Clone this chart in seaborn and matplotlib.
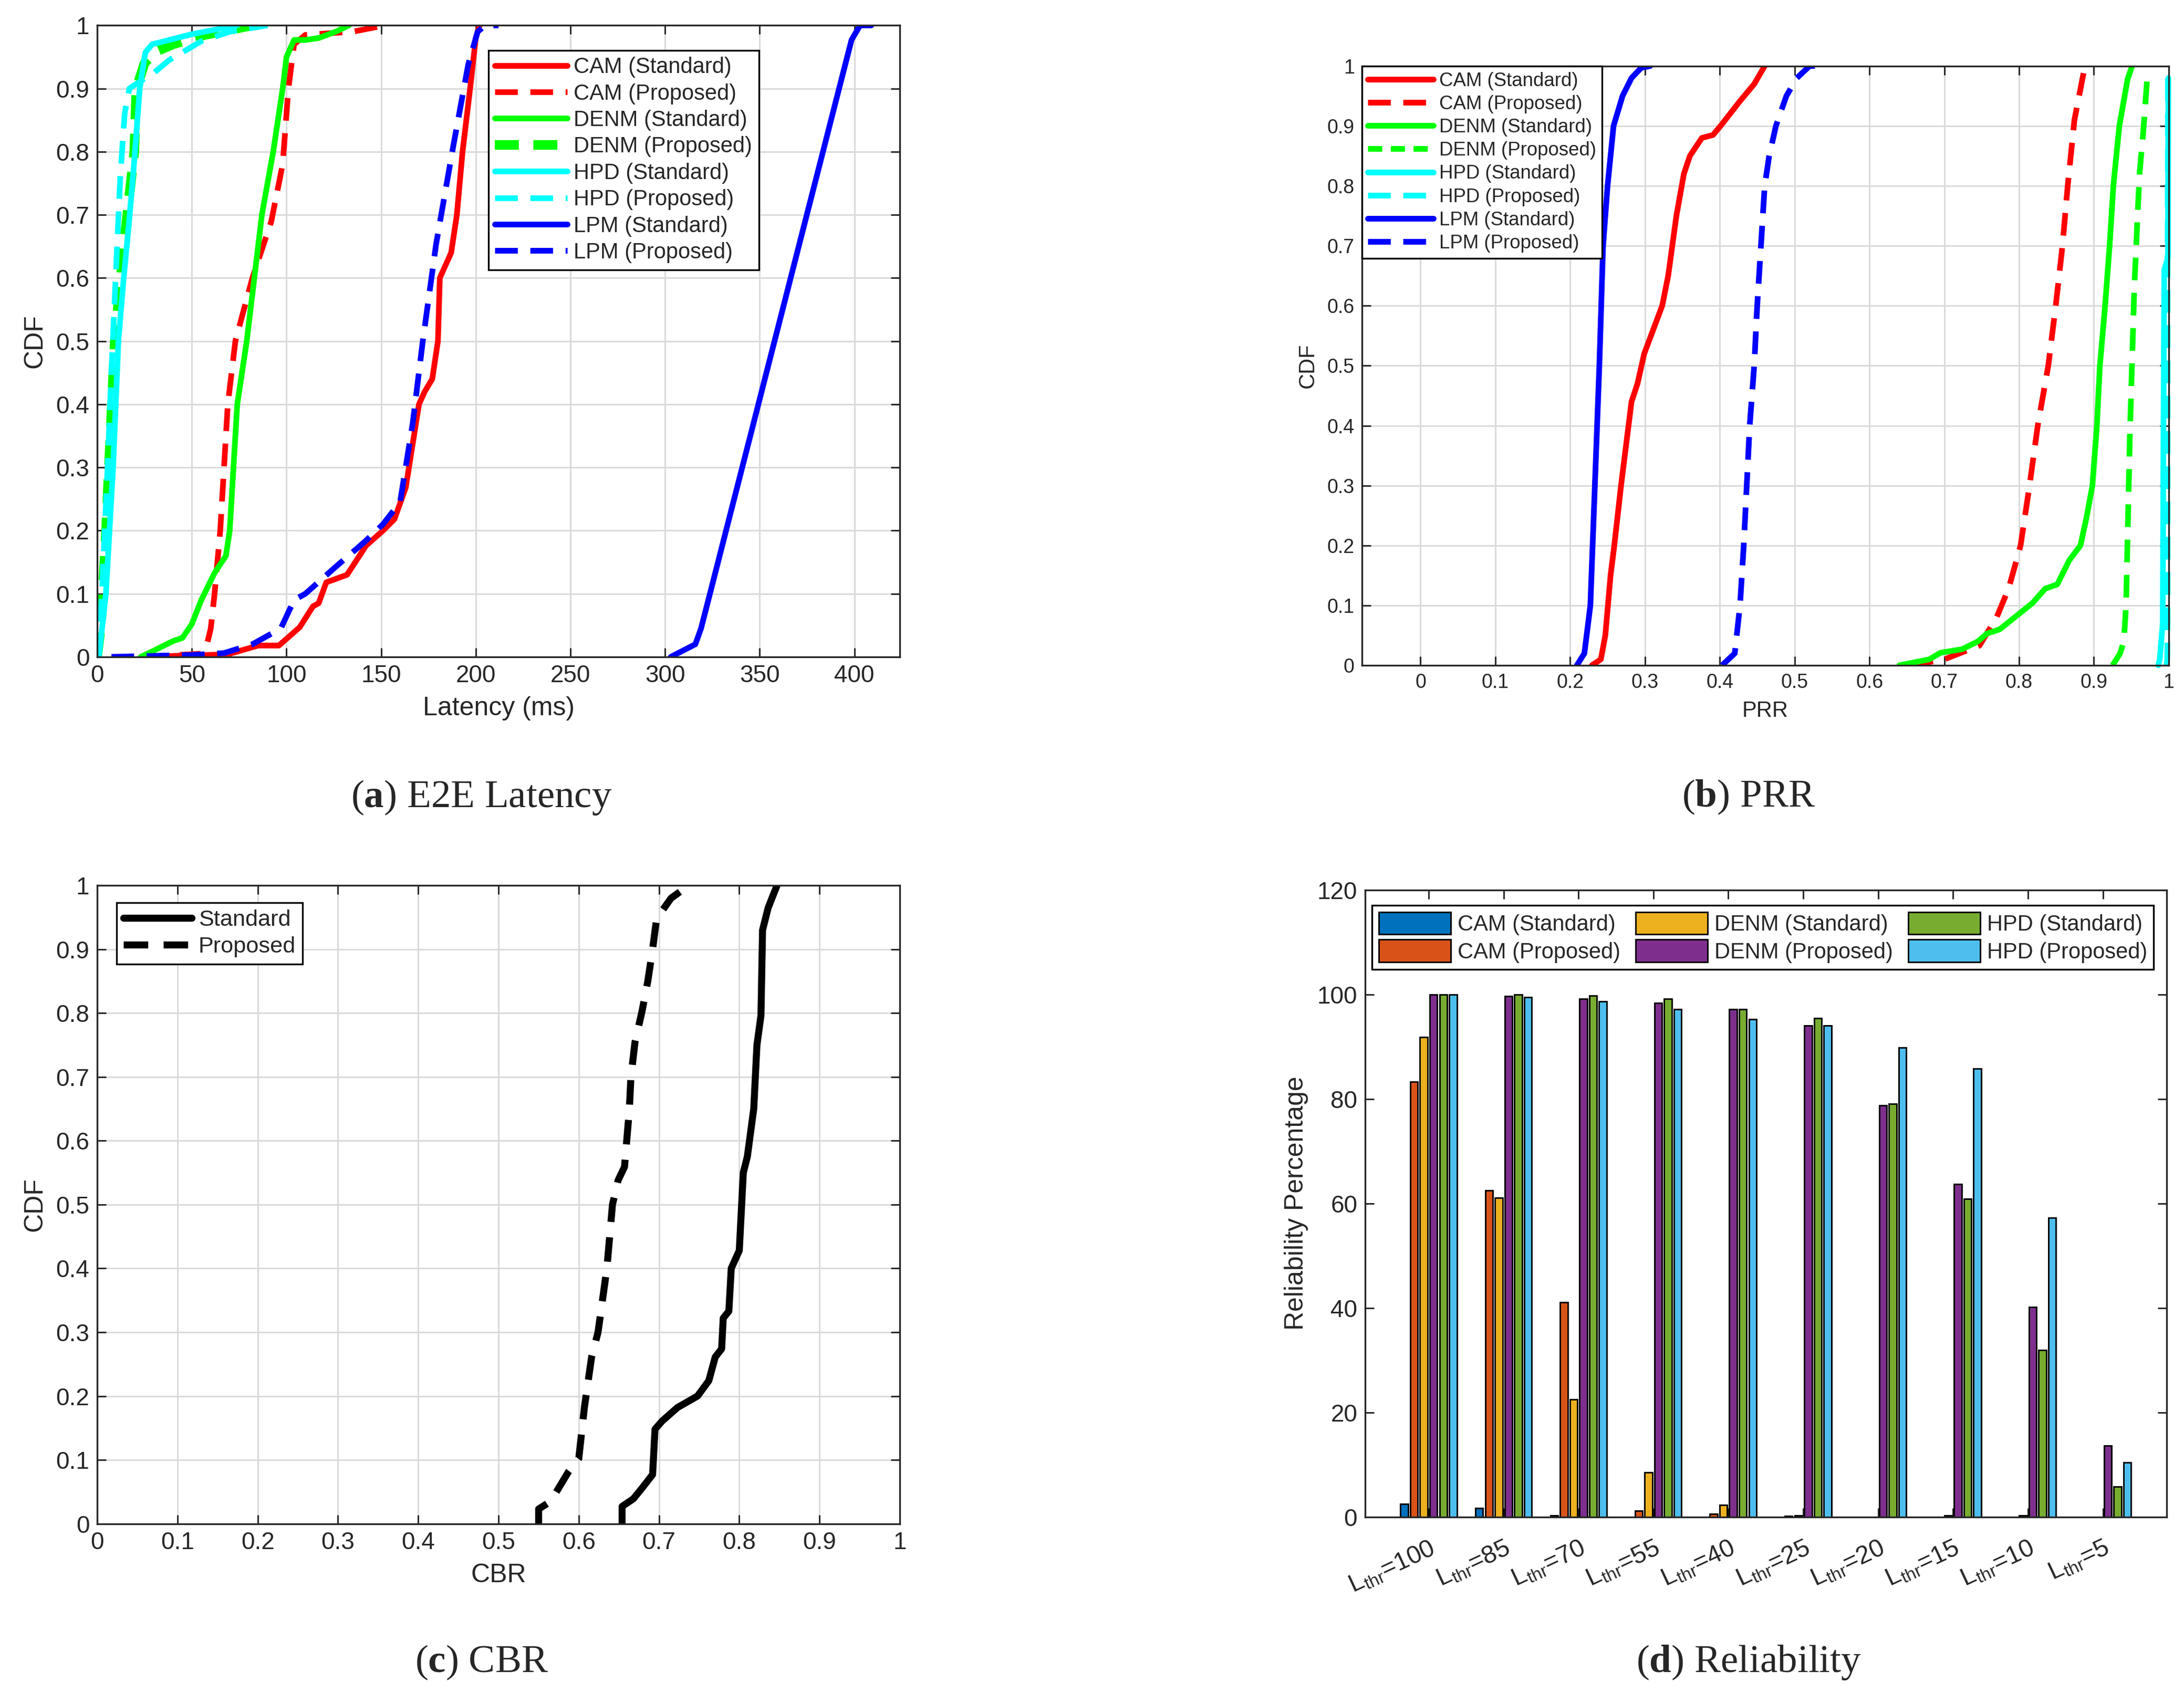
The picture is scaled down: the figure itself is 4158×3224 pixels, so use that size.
import pandas as pd
import matplotlib
matplotlib.use("Agg")
import matplotlib.pyplot as plt
from matplotlib.lines import Line2D
from matplotlib.patches import Patch
from matplotlib.ticker import FuncFormatter, MultipleLocator
import seaborn as sns

# ---------------- (a) E2E latency CDF (ms) ----------------
cam_std_lat = [23, 69, 85, 96, 107, 114, 117, 121, 132, 142, 151, 157, 163, 170, 173, 177, 180, 181, 184, 187, 190, 193, 197, 200, 202]
cam_std_lat_cdf = [0, 0.004, 0.018, 0.018, 0.047, 0.08, 0.085, 0.118, 0.13, 0.176, 0.2, 0.218, 0.268, 0.4, 0.42, 0.44, 0.5, 0.6, 0.62, 0.64, 0.7, 0.8, 0.9, 0.98, 1.0]
cam_prop_lat = [25, 55, 58, 60, 62, 65, 67, 69, 73, 82, 92, 98, 101, 104, 110, 135, 152]
cam_prop_lat_cdf = [0, 0.005, 0.02, 0.045, 0.1, 0.2, 0.3, 0.4, 0.5, 0.6, 0.69, 0.78, 0.9, 0.97, 0.985, 0.99, 1.0]
denm_std_lat = [23, 30, 40, 45, 50, 55, 62, 68, 70, 72, 74, 79, 83, 87, 93, 98, 100, 104, 110, 117, 126, 133]
denm_std_lat_cdf = [0, 0.01, 0.025, 0.03, 0.052, 0.09, 0.133, 0.16, 0.2, 0.3, 0.4, 0.5, 0.6, 0.7, 0.8, 0.9, 0.95, 0.977, 0.977, 0.98, 0.99, 1.0]
denm_prop_lat = [0, 2, 4.7, 6.2, 9.3, 14, 19.6, 20.7, 25, 30, 40, 57, 82]
denm_prop_lat_cdf = [0, 0.05, 0.2, 0.3, 0.5, 0.65, 0.8, 0.9, 0.94, 0.957, 0.97, 0.985, 1.0]
hpd_std_lat = [0.9, 4.6, 6.5, 8.4, 11.2, 14, 16.9, 19.7, 22.5, 25.4, 29, 50, 74]
hpd_std_lat_cdf = [0, 0.1, 0.2, 0.3, 0.5, 0.6, 0.69, 0.79, 0.9, 0.957, 0.97, 0.986, 1.0]
hpd_prop_lat = [0.5, 2.5, 4, 5.5, 7.5, 9.3, 10.8, 12.2, 14.5, 17, 22, 30, 38, 55, 70, 90]
hpd_prop_lat_cdf = [0, 0.1, 0.2, 0.3, 0.45, 0.57, 0.67, 0.76, 0.86, 0.9, 0.91, 0.925, 0.945, 0.975, 0.99, 1.0]
lpm_std_lat = [303, 316, 319, 398.5, 403, 409]
lpm_std_lat_cdf = [0, 0.02, 0.045, 0.977, 1.0, 1.0]
lpm_prop_lat = [7.5, 50, 67, 82, 97, 104, 110, 125, 141.6, 151, 160, 166.6, 172, 179, 188, 196, 201, 205, 212]
lpm_prop_lat_cdf = [0, 0.003, 0.006, 0.02, 0.045, 0.09, 0.1, 0.14, 0.183, 0.21, 0.245, 0.368, 0.5, 0.653, 0.807, 0.938, 0.99, 1.0, 1.0]

# ---------------- (b) PRR CDF ----------------
cam_std_prr = [0.229, 0.241, 0.247, 0.254, 0.259, 0.268, 0.278, 0.282, 0.29, 0.299, 0.311, 0.323, 0.331, 0.342, 0.352, 0.36, 0.376, 0.391, 0.401, 0.426, 0.446, 0.46]
cam_std_prr_cdf = [0, 0.01, 0.05, 0.15, 0.2, 0.3, 0.4, 0.44, 0.47, 0.52, 0.56, 0.6, 0.65, 0.75, 0.82, 0.85, 0.88, 0.885, 0.9, 0.94, 0.97, 1.0]
cam_prop_prr = [0.655, 0.7, 0.747, 0.77, 0.786, 0.802, 0.814, 0.825, 0.839, 0.849, 0.858, 0.865, 0.874, 0.888]
cam_prop_prr_cdf = [0, 0.01, 0.033, 0.08, 0.128, 0.2, 0.3, 0.4, 0.5, 0.6, 0.7, 0.8, 0.91, 1.0]
denm_std_prr = [0.64, 0.68, 0.695, 0.724, 0.745, 0.757, 0.774, 0.794, 0.818, 0.835, 0.851, 0.867, 0.882, 0.89, 0.898, 0.904, 0.908, 0.915, 0.921, 0.926, 0.934, 0.945, 0.951]
denm_std_prr_cdf = [0, 0.01, 0.021, 0.027, 0.04, 0.053, 0.06, 0.08, 0.104, 0.128, 0.135, 0.175, 0.2, 0.246, 0.3, 0.4, 0.5, 0.6, 0.7, 0.8, 0.9, 0.978, 1.0]
denm_prop_prr = [0.925, 0.935, 0.94, 0.943, 0.948, 0.954, 0.961, 0.966, 0.971]
denm_prop_prr_cdf = [0, 0.02, 0.04, 0.1, 0.38, 0.63, 0.82, 0.89, 0.975]
hpd_std_prr = [0.986, 0.988, 0.992, 0.993, 0.994, 0.999, 0.9995]
hpd_std_prr_cdf = [0, 0.01, 0.07, 0.4, 0.66, 0.68, 0.98]
hpd_prop_prr = [0.997, 0.998, 0.9985, 0.9985, 0.999]
hpd_prop_prr_cdf = [0, 0.01, 0.1, 0.65, 1.0]
lpm_std_prr = [0.209, 0.219, 0.227, 0.233, 0.239, 0.244, 0.25, 0.254, 0.258, 0.27, 0.282, 0.295, 0.307]
lpm_std_prr_cdf = [0, 0.02, 0.1, 0.3, 0.5, 0.7, 0.8, 0.85, 0.9, 0.95, 0.98, 0.997, 1.0]
lpm_prop_prr = [0.403, 0.42, 0.427, 0.432, 0.44, 0.446, 0.45, 0.455, 0.46, 0.466, 0.475, 0.489, 0.503, 0.52, 0.536]
lpm_prop_prr_cdf = [0, 0.02, 0.1, 0.2, 0.4, 0.5, 0.6, 0.7, 0.8, 0.85, 0.9, 0.95, 0.98, 1.0, 1.0]

# ---------------- (c) CBR CDF ----------------
cbr_std = [0.654, 0.654, 0.668, 0.679, 0.692, 0.695, 0.704, 0.723, 0.748, 0.762, 0.77, 0.778, 0.78, 0.787, 0.79, 0.8, 0.805, 0.81, 0.818, 0.822, 0.827, 0.829, 0.836, 0.847]
cbr_std_cdf = [0, 0.027, 0.039, 0.056, 0.077, 0.148, 0.161, 0.182, 0.2, 0.224, 0.261, 0.274, 0.322, 0.333, 0.4, 0.428, 0.55, 0.575, 0.65, 0.75, 0.796, 0.93, 0.965, 1.0]
cbr_prop = [0.55, 0.55, 0.565, 0.587, 0.6, 0.607, 0.616, 0.624, 0.635, 0.642, 0.649, 0.657, 0.663, 0.665, 0.67, 0.679, 0.686, 0.692, 0.697, 0.715, 0.737]
cbr_prop_cdf = [0, 0.023, 0.035, 0.081, 0.102, 0.182, 0.261, 0.3, 0.4, 0.5, 0.538, 0.559, 0.648, 0.7, 0.754, 0.804, 0.85, 0.9, 0.948, 0.98, 1.0]

# ---------------- (d) reliability (%) ----------------
thresholds = [100, 85, 70, 55, 40, 25, 20, 15, 10, 5]
series_names = ["CAM (Standard)", "CAM (Proposed)", "DENM (Standard)",
                "DENM (Proposed)", "HPD (Standard)", "HPD (Proposed)"]
rel_cam_std = [2.5, 1.7, 0.3, 0, 0, 0, 0, 0, 0, 0]
rel_cam_prop = [83.3, 62.5, 41.1, 1.2, 0.6, 0.2, 0, 0, 0, 0]
rel_denm_std = [91.8, 61.1, 22.5, 8.5, 2.3, 0.3, 0, 0.3, 0.3, 0]
rel_denm_prop = [100, 99.7, 99.2, 98.3, 97.1, 94.0, 78.8, 63.7, 40.2, 13.6]
rel_hpd_std = [100, 100, 99.8, 99.2, 97.1, 95.4, 79.1, 60.9, 31.9, 5.8]
rel_hpd_prop = [100, 99.5, 98.6, 97.1, 95.2, 94.0, 89.8, 85.8, 57.2, 10.4]

RED, GREEN, CYAN, BLUE = "#ff0000", "#00ff00", "#00ffff", "#0000ff"
BAR_COLORS = ["#0072bd", "#d95319", "#edb120", "#7e2f8e", "#77ac30", "#4dbeee"]
DASH = (0, (4, 2.2))
THICK_DASH = (0, (2.5, 1.5))
LW = 2.6
DARK = "#262626"

sns.set_style("ticks")
plt.rcParams["font.family"] = ["Liberation Sans", "DejaVu Sans"]
plt.rcParams["mathtext.fontset"] = "custom"
plt.rcParams["mathtext.rm"] = "Liberation Serif"
plt.rcParams["mathtext.bf"] = "Liberation Serif:bold"
plt.rcParams["axes.edgecolor"] = DARK
plt.rcParams["xtick.color"] = DARK
plt.rcParams["ytick.color"] = DARK
plt.rcParams["axes.labelcolor"] = DARK

fig = plt.figure(figsize=(13.86, 10.7467), dpi=300)
ax_a = fig.add_axes([0.0445, 0.612, 0.3675, 0.373])
ax_b = fig.add_axes([0.6237, 0.607, 0.3693, 0.354])
ax_c = fig.add_axes([0.0445, 0.100, 0.3675, 0.377])
ax_d = fig.add_axes([0.6250, 0.104, 0.3670, 0.3704])

fmt = FuncFormatter(lambda v, pos: f"{v:g}")


def draw(ax, x, y, color, ls="-", lw=LW, clip=True):
    sns.lineplot(x=x, y=y, ax=ax, color=color, linestyle=ls, linewidth=lw,
                 sort=False, estimator=None, clip_on=clip)


def style_cdf(ax, xlabel, size, xlim, xstep):
    ax.set_xlim(*xlim)
    ax.set_ylim(0, 1)
    ax.xaxis.set_major_locator(MultipleLocator(xstep))
    ax.yaxis.set_major_locator(MultipleLocator(0.1))
    ax.xaxis.set_major_formatter(fmt)
    ax.yaxis.set_major_formatter(fmt)
    ax.grid(True, color="#dadada", linewidth=0.7)
    ax.set_axisbelow(True)
    ax.tick_params(direction="in", top=True, right=True, length=4, width=0.7,
                   labelsize=size)
    for sp in ax.spines.values():
        sp.set_linewidth(0.8)
    ax.set_xlabel(xlabel, fontsize=size + 1)
    ax.set_ylabel("CDF", fontsize=size + 1)


def cdf_legend(ax, specs, **kw):
    handles = [Line2D([], [], color=c, linestyle=ls, linewidth=lw, label=lab)
               for lab, c, ls, lw in specs]
    leg = ax.legend(handles=handles, frameon=True, fancybox=False,
                    edgecolor="black", framealpha=1, borderpad=0.3,
                    labelspacing=0.25, handletextpad=0.3, **kw)
    leg.get_frame().set_linewidth(0.8)


# (a)
draw(ax_a, cam_std_lat, cam_std_lat_cdf, RED)
draw(ax_a, cam_prop_lat, cam_prop_lat_cdf, RED, DASH)
draw(ax_a, denm_std_lat, denm_std_lat_cdf, GREEN)
draw(ax_a, denm_prop_lat, denm_prop_lat_cdf, GREEN, THICK_DASH, 4.4)
draw(ax_a, hpd_std_lat, hpd_std_lat_cdf, CYAN)
draw(ax_a, hpd_prop_lat, hpd_prop_lat_cdf, CYAN, DASH)
draw(ax_a, lpm_std_lat, lpm_std_lat_cdf, BLUE)
draw(ax_a, lpm_prop_lat, lpm_prop_lat_cdf, BLUE, DASH)
style_cdf(ax_a, "Latency (ms)", 11, (0, 424), 50)
specs = [("CAM (Standard)", RED, "-", LW), ("CAM (Proposed)", RED, DASH, LW),
         ("DENM (Standard)", GREEN, "-", LW), ("DENM (Proposed)", GREEN, THICK_DASH, 4.4),
         ("HPD (Standard)", CYAN, "-", LW), ("HPD (Proposed)", CYAN, DASH, LW),
         ("LPM (Standard)", BLUE, "-", LW), ("LPM (Proposed)", BLUE, DASH, LW)]
cdf_legend(ax_a, specs, loc="upper right", bbox_to_anchor=(0.838, 0.978),
           fontsize=10, handlelength=3.3)

# (b)
draw(ax_b, cam_std_prr, cam_std_prr_cdf, RED)
draw(ax_b, cam_prop_prr, cam_prop_prr_cdf, RED, DASH)
draw(ax_b, denm_std_prr, denm_std_prr_cdf, GREEN)
draw(ax_b, denm_prop_prr, denm_prop_prr_cdf, GREEN, DASH)
draw(ax_b, hpd_std_prr, hpd_std_prr_cdf, CYAN, clip=False)
draw(ax_b, hpd_prop_prr, hpd_prop_prr_cdf, CYAN, DASH, clip=False)
draw(ax_b, lpm_std_prr, lpm_std_prr_cdf, BLUE)
draw(ax_b, lpm_prop_prr, lpm_prop_prr_cdf, BLUE, DASH)
style_cdf(ax_b, "PRR", 9, (-0.078, 1.0), 0.1)
ax_b.set_xticks([i / 10 for i in range(11)])
specs_b = [(lab, c, ls, LW) for lab, c, ls, _ in specs]
cdf_legend(ax_b, specs_b, loc="upper left", bbox_to_anchor=(0.0, 1.0),
           borderaxespad=0, fontsize=8.8, handlelength=3.4)

# (c)
draw(ax_c, cbr_std, cbr_std_cdf, "black", "-", 3.2)
draw(ax_c, cbr_prop, cbr_prop_cdf, "black", (0, (3.5, 2.2)), 3.2)
style_cdf(ax_c, "CBR", 11, (0, 1), 0.1)
cdf_legend(ax_c, [("Standard", "black", "-", 3.2), ("Proposed", "black", (0, (3.5, 2.2)), 3.2)],
           loc="upper left", bbox_to_anchor=(0.024, 0.973), borderaxespad=0,
           fontsize=10.4, handlelength=3.0)

# (d)
values = [rel_cam_std, rel_cam_prop, rel_denm_std, rel_denm_prop, rel_hpd_std, rel_hpd_prop]
rows = []
for name, vals in zip(series_names, values):
    for thr, v in zip(thresholds, vals):
        rows.append({"threshold": str(thr), "reliability": v, "series": name})
df = pd.DataFrame(rows)
sns.barplot(data=df, x="threshold", y="reliability", hue="series",
            order=[str(t) for t in thresholds], hue_order=series_names,
            palette=BAR_COLORS, saturation=1, width=0.78, gap=0.22,
            edgecolor="black", linewidth=0.7, legend=False, ax=ax_d)
ax_d.set_xlim(-0.85, 9.85)
ax_d.set_ylim(0, 120)
ax_d.yaxis.set_major_locator(MultipleLocator(20))
ax_d.set_xticks(range(len(thresholds)))
ax_d.set_xticklabels([r"L$_{\mathregular{thr}}$=" + str(t) for t in thresholds],
                     rotation=25, ha="right", rotation_mode="anchor")
ax_d.tick_params(direction="in", top=True, right=True, length=4, width=0.7,
                 labelsize=11)
ax_d.tick_params(axis="x", pad=9, labelsize=11.5)
for sp in ax_d.spines.values():
    sp.set_linewidth(0.8)
ax_d.set_xlabel("")
ax_d.set_ylabel("Reliability Percentage", fontsize=12)
bar_handles = [Patch(facecolor=c, edgecolor="black", linewidth=0.7, label=s)
               for s, c in zip(series_names, BAR_COLORS)]
leg = ax_d.legend(handles=bar_handles, ncol=3, loc="lower left",
                  bbox_to_anchor=(0.009, 0.873, 0.975, 0.105), mode="expand",
                  borderaxespad=0, fontsize=10, handlelength=3.3, handleheight=1.2,
                  frameon=True, fancybox=False, edgecolor="black", framealpha=1,
                  columnspacing=0.5, handletextpad=0.3, labelspacing=0.2,
                  borderpad=0.3)
leg.get_frame().set_linewidth(0.8)

# captions
cap = dict(fontsize=18, family="Liberation Serif", ha="center", va="center")
fig.text(0.2205, 0.529, r"($\mathbf{a}$) E2E Latency", **cap)
fig.text(0.8006, 0.529, r"($\mathbf{b}$) PRR", **cap)
fig.text(0.2205, 0.018, r"($\mathbf{c}$) CBR", **cap)
fig.text(0.8006, 0.018, r"($\mathbf{d}$) Reliability", **cap)

fig.savefig("out.png", dpi=300)
plt.close(fig)
print("[PLOT] out.png generated")
